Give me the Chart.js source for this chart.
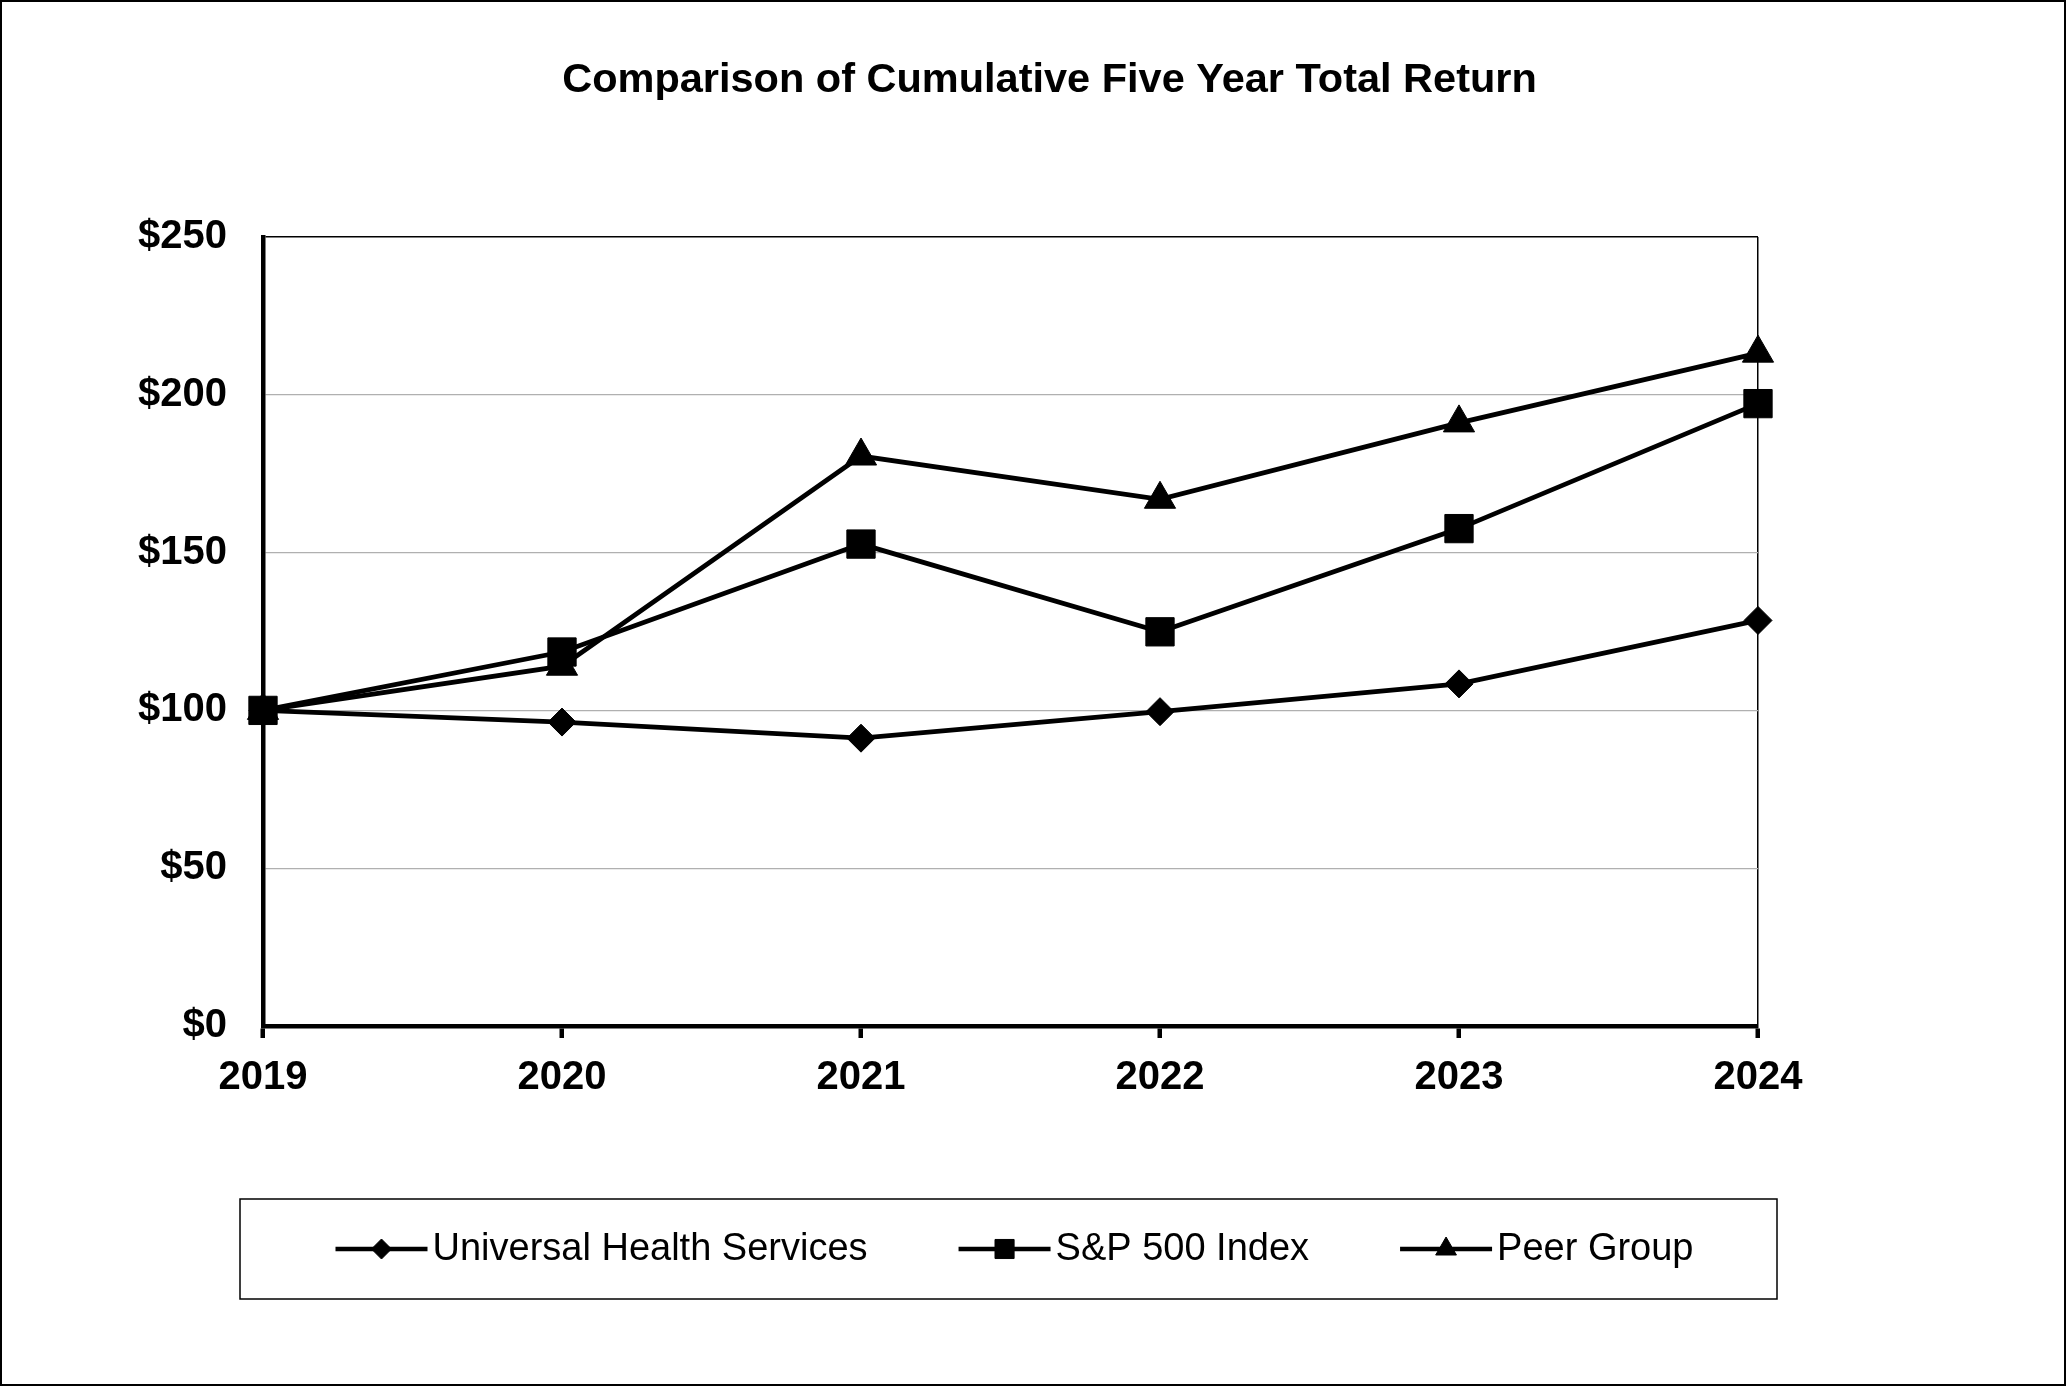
<!DOCTYPE html>
<html>
<head>
<meta charset="utf-8">
<script src="https://cdn.jsdelivr.net/npm/chart.js@4.4.1/dist/chart.umd.min.js"></script>
<style>
html,body{margin:0;padding:0;background:#fff;}
#wrap{width:2066px;height:1386px;position:relative;}
canvas{display:block;}
</style>
</head>
<body>
<div id="wrap"><canvas id="c" width="2066" height="1386"></canvas></div>
<script>
// ---- data ----
const years = ['2019', '2020', '2021', '2022', '2023', '2024'];
const uhsValues = [100, 96.3, 91.2, 99.6, 108.4, 128.5];
const spValues = [100, 118.5, 152.7, 124.9, 157.6, 197.2];
const peerValues = [100, 114.0, 180.6, 166.9, 191.1, 213.2];
const seriesNames = ['Universal Health Services', 'S&P 500 Index', 'Peer Group'];
const yTickValues = [0, 50, 100, 150, 200, 250];
const chartTitle = 'Comparison of Cumulative Five Year Total Return';

// ---- style ----
const FONT = "'Liberation Sans', Arial, Helvetica, sans-serif";
const pointStyles = ['rectRot', 'rect', 'triangle'];
const pointRadii = [14, 20, 18];
const legendRadii = [10, 13.5, 12];

const framePlugin = {
  id: 'frame',
  beforeDraw(chart) {
    const ctx = chart.ctx;
    ctx.save();
    ctx.fillStyle = '#fff';
    ctx.fillRect(0, 0, chart.width, chart.height);
    ctx.strokeStyle = '#000';
    ctx.lineWidth = 2;
    ctx.strokeRect(1, 1, chart.width - 2, chart.height - 2);
    ctx.restore();
  }
};

const boxLegendPlugin = {
  id: 'boxLegend',
  afterDraw(chart) {
    const ctx = chart.ctx;
    const a = chart.chartArea;
    const box = { left: a.left - 23, right: a.right + 19, top: a.bottom + 173, bottom: a.bottom + 273 };
    ctx.save();
    ctx.strokeStyle = '#000';
    ctx.lineWidth = 1.5;
    ctx.strokeRect(box.left, box.top, box.right - box.left, box.bottom - box.top);
    ctx.font = '38px ' + FONT;
    ctx.textBaseline = 'middle';
    ctx.textAlign = 'left';
    const symW = 92, gap = 5, itemGap = 91;
    const items = chart.data.datasets.map((ds, i) => ({ ds, i, w: symW + gap + ctx.measureText(ds.label).width }));
    const total = items.reduce((s, it) => s + it.w, 0) + itemGap * (items.length - 1);
    let x = (box.left + box.right) / 2 + 6 - total / 2;
    const y = (box.top + box.bottom) / 2;
    items.forEach(it => {
      ctx.strokeStyle = '#000';
      ctx.fillStyle = '#000';
      ctx.lineWidth = 4.5;
      ctx.beginPath();
      ctx.moveTo(x, y);
      ctx.lineTo(x + symW, y);
      ctx.stroke();
      ctx.lineWidth = 1;
      Chart.helpers.drawPoint(ctx, { pointStyle: it.ds.pointStyle, radius: legendRadii[it.i], borderWidth: 1, rotation: 0 }, x + symW / 2, y);
      ctx.fillStyle = '#000';
      ctx.fillText(it.ds.label, x + symW + gap, y + 1);
      x += it.w + itemGap;
    });
    ctx.restore();
  }
};

function makeDataset(i, values) {
  return {
    label: seriesNames[i],
    data: values,
    borderColor: '#000',
    backgroundColor: '#000',
    borderWidth: 4.8,
    pointStyle: pointStyles[i],
    pointRadius: pointRadii[i],
    pointHoverRadius: pointRadii[i],
    pointBackgroundColor: '#000',
    pointBorderColor: '#000',
    pointBorderWidth: 1,
    tension: 0,
    fill: false,
    yAxisID: 'y'
  };
}

new Chart(document.getElementById('c'), {
  type: 'line',
  data: {
    labels: years,
    datasets: [makeDataset(0, uhsValues), makeDataset(1, spValues), makeDataset(2, peerValues)]
  },
  options: {
    responsive: false,
    devicePixelRatio: 1,
    animation: false,
    layout: { padding: { left: 33, right: 0, top: 0, bottom: 260 } },
    plugins: {
      legend: { display: false },
      tooltip: { enabled: false },
      title: {
        display: true,
        text: chartTitle,
        color: '#000',
        font: { family: FONT, size: 41.5, weight: 'bold', lineHeight: 1.2 },
        padding: { top: 56, bottom: 131.2 }
      }
    },
    scales: {
      x: {
        type: 'category',
        offset: false,
        grid: {
          display: true,
          drawOnChartArea: true,
          color: c => (c.index === years.length - 1 ? '#000' : 'rgba(0,0,0,0)'),
          lineWidth: 1.5,
          drawTicks: true,
          tickLength: 12,
          tickColor: '#000',
          tickWidth: 4.5
        },
        border: { display: true, color: '#000', width: 4.5 },
        ticks: {
          color: '#000',
          font: { family: FONT, size: 40, weight: 'bold' },
          padding: 16,
          maxRotation: 0,
          autoSkip: false
        },
        afterFit: s => { s.height = 100; }
      },
      y: {
        position: 'left',
        min: 0,
        max: 250,
        afterBuildTicks: s => { s.ticks = yTickValues.map(v => ({ value: v })); },
        grid: {
          color: c => (c.tick.value === 250 ? '#000' : (c.tick.value === 0 ? 'rgba(0,0,0,0)' : '#b0b0b0')),
          lineWidth: c => (c.tick.value === 250 ? 1.5 : 1.2),
          drawTicks: false
        },
        border: { display: true, color: '#000', width: 4.5 },
        ticks: {
          color: '#000',
          padding: 36,
          font: { family: FONT, size: 40, weight: 'bold' },
          callback: v => '$' + v
        },
        afterFit: s => { s.width = 230; }
      },
      y2: {
        position: 'right',
        display: true,
        grid: { display: false },
        border: { display: false },
        ticks: { display: false },
        afterFit: s => { s.width = 308; }
      }
    }
  },
  plugins: [framePlugin, boxLegendPlugin]
});
</script>
</body>
</html>
